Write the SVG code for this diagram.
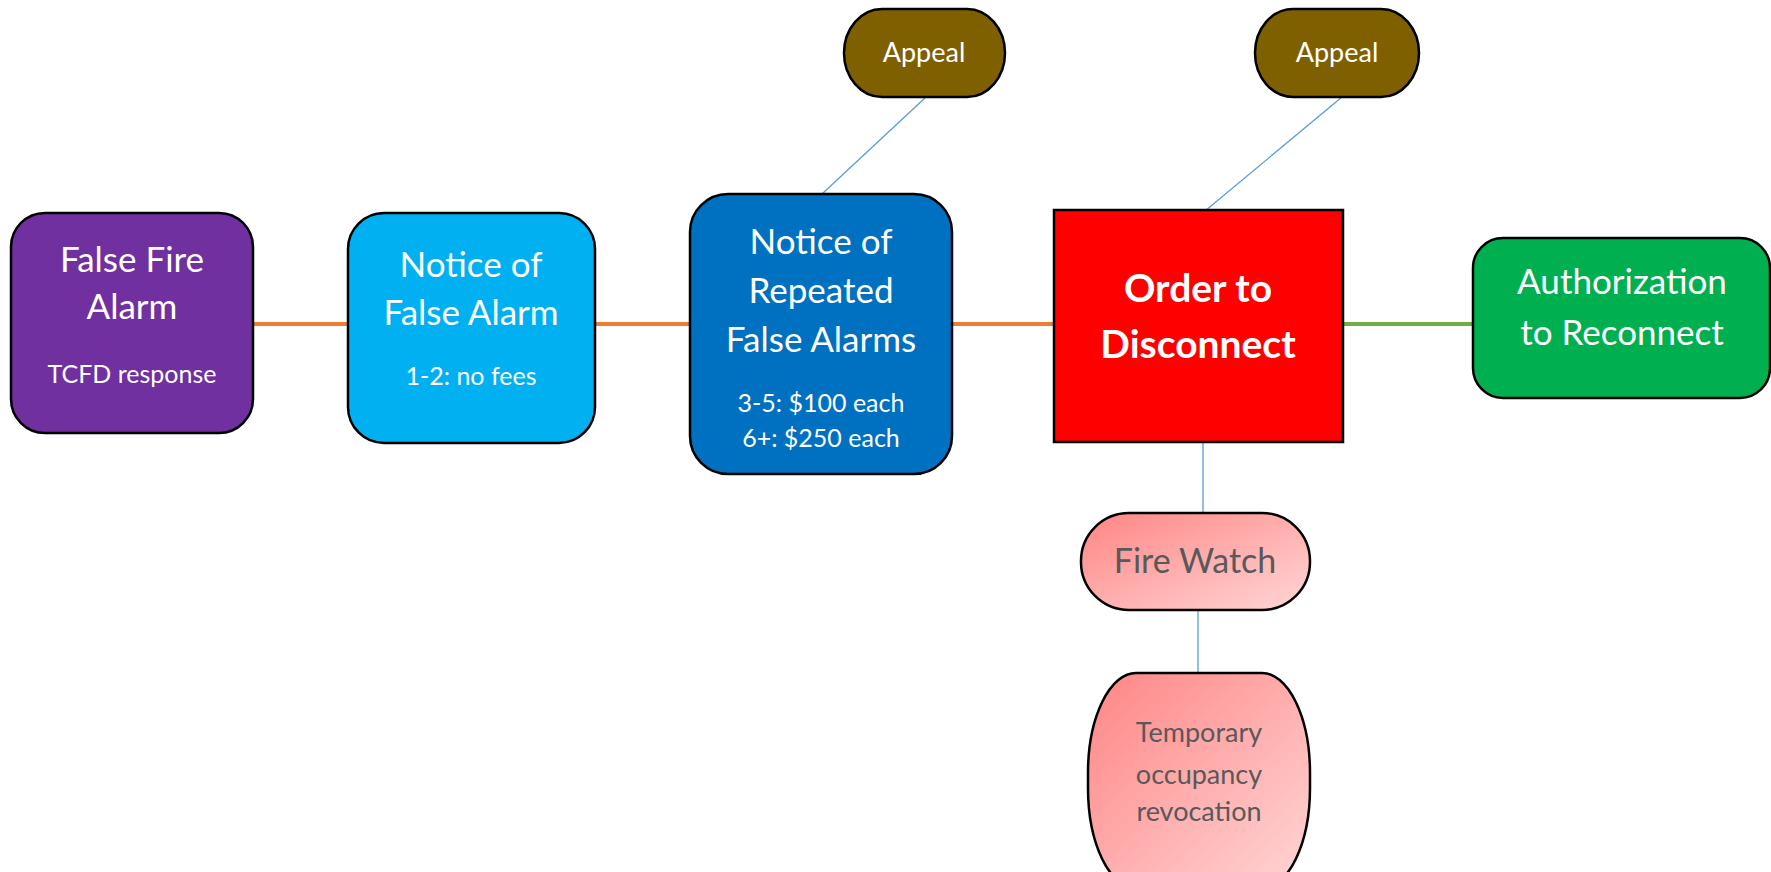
<svg xmlns="http://www.w3.org/2000/svg" width="1771" height="872" viewBox="0 0 1771 872">
<style>
.box{stroke:#000;stroke-width:2.5}
.t{font-family:Lato,"Liberation Sans",sans-serif;fill:#fff;text-anchor:middle}
.big{font-size:35px}
.sm{font-size:25px}
.ap{font-size:27px}
.bold{font-size:39px;font-weight:bold}
.gray{fill:#595959}
.orange{stroke:#ED7D31;stroke-width:4;fill:none}
.greenl{stroke:#70AD47;stroke-width:4;fill:none}
.bluel{stroke:#5B9BD5;stroke-width:1.3;fill:none}
</style>
<defs>
<linearGradient id="pink" x1="0" y1="0" x2="1" y2="1">
<stop offset="0" stop-color="#FF8585"/>
<stop offset="1" stop-color="#FFD6D6"/>
</linearGradient>
</defs>
<g id="connectors">
<line class="orange" x1="253" y1="324" x2="348" y2="324"/>
<line class="orange" x1="595" y1="324" x2="690" y2="324"/>
<line class="orange" x1="952" y1="324" x2="1054" y2="324"/>
<line class="greenl" x1="1343" y1="324" x2="1473" y2="324"/>
<line class="bluel" x1="926" y1="97" x2="822" y2="194"/>
<line class="bluel" x1="1342" y1="97" x2="1205" y2="211"/>
<line class="bluel" x1="1203" y1="442" x2="1203" y2="513"/>
<line class="bluel" x1="1198" y1="610" x2="1198" y2="673"/>
</g>
<g id="false-fire-alarm">
<rect class="box" x="11" y="213" width="242" height="220" rx="34" fill="#7030A0"/>
<text class="t big" x="132" y="272">False Fire</text>
<text class="t big" x="132" y="319">Alarm</text>
<text class="t sm" x="132" y="383">TCFD response</text>
</g>
<g id="notice-false-alarm">
<rect class="box" x="348" y="213" width="247" height="230" rx="36" fill="#00B0F0"/>
<text class="t big" x="471" y="277">Notice of</text>
<text class="t big" x="471" y="325">False Alarm</text>
<text class="t sm" x="471" y="385">1-2: no fees</text>
</g>
<g id="notice-repeated">
<rect class="box" x="690" y="194" width="262" height="280" rx="38" fill="#0070C0"/>
<text class="t big" x="821" y="254">Notice of</text>
<text class="t big" x="821" y="303">Repeated</text>
<text class="t big" x="821" y="352">False Alarms</text>
<text class="t sm" x="821" y="412">3-5: $100 each</text>
<text class="t sm" x="821" y="447">6+: $250 each</text>
</g>
<g id="order-disconnect">
<rect class="box" x="1054" y="210" width="289" height="232" fill="#FF0000"/>
<text class="t bold" x="1198" y="302">Order to</text>
<text class="t bold" x="1198" y="358">Disconnect</text>
</g>
<g id="authorization">
<rect class="box" x="1473" y="238" width="297" height="160" rx="30" fill="#00B050"/>
<text class="t big" x="1622" y="294">Authorization</text>
<text class="t big" x="1622" y="345">to Reconnect</text>
</g>
<g id="appeal-1">
<rect class="box" x="844" y="9" width="161" height="88" rx="38" ry="44" fill="#7F6000"/>
<text class="t ap" x="924" y="62">Appeal</text>
</g>
<g id="appeal-2">
<rect class="box" x="1255" y="9" width="164" height="88" rx="38" ry="44" fill="#7F6000"/>
<text class="t ap" x="1337" y="62">Appeal</text>
</g>
<g id="fire-watch">
<rect class="box" x="1081" y="513" width="229" height="97" rx="48" ry="48" fill="url(#pink)"/>
<text class="t gray" style="font-size:34px" x="1195" y="573">Fire Watch</text>
</g>
<g id="temporary-occupancy">
<rect class="box" x="1088" y="673" width="222" height="215" rx="48" ry="100" fill="url(#pink)"/>
<text class="t gray" style="font-size:27px" x="1199" y="742">Temporary</text>
<text class="t gray" style="font-size:27px" x="1199" y="784">occupancy</text>
<text class="t gray" style="font-size:27px" x="1199" y="821">revocation</text>
</g>
</svg>
